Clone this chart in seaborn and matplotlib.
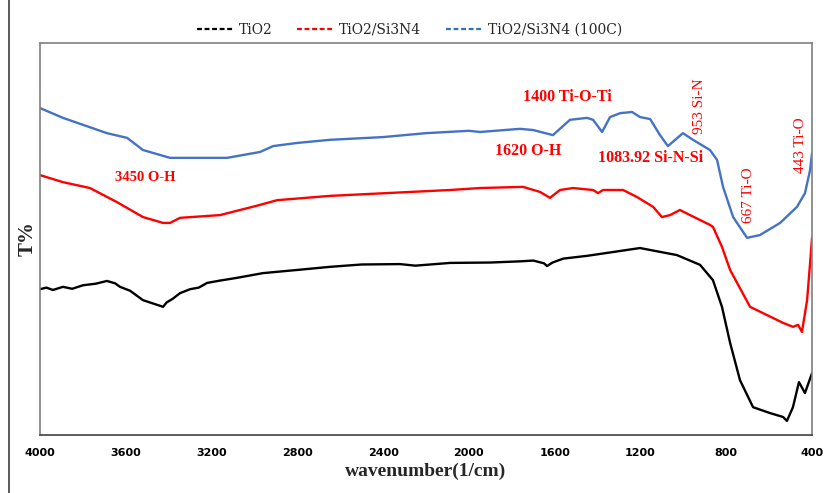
import numpy as np
import pandas as pd
import matplotlib.pyplot as plt
from matplotlib.lines import Line2D
from matplotlib.ticker import MultipleLocator
import seaborn as sns

# -------------------------------------------------------
# Dane (liczba falowa [1/cm], T%)
# -------------------------------------------------------
w_blue = [4000, 3893, 3688, 3594, 3520, 3394, 3268, 3128, 2974, 2913, 2802, 2648, 2400, 2200,
          2000, 1948, 1762, 1701, 1608, 1529, 1449, 1421, 1379, 1342, 1295, 1239, 1202, 1155,
          1109, 1072, 1002, 955, 876, 843, 815, 768, 703, 643, 549, 470, 433, 409, 400]
t_blue = [83.4, 80.9, 77.0, 75.8, 72.7, 70.7, 70.7, 70.7, 72.2, 73.7, 74.5, 75.3, 76.0, 77.0,
          77.6, 77.3, 78.1, 77.8, 76.5, 80.4, 80.9, 80.4, 77.3, 81.1, 82.1, 82.4, 81.1, 80.6,
          76.5, 73.7, 77.0, 75.3, 72.7, 70.2, 63.3, 55.6, 50.3, 51.0, 54.1, 58.2, 61.7, 67.6, 71.9]

w_red = [4000, 3893, 3767, 3641, 3520, 3426, 3394, 3347, 3161, 2974, 2895, 2648, 2088, 1948,
         1748, 1668, 1622, 1575, 1515, 1421, 1398, 1375, 1281, 1216, 1141, 1100, 1062, 1016,
         969, 876, 862, 820, 782, 689, 610, 535, 489, 465, 447, 423, 409, 400]
t_red = [66.3, 64.5, 63.0, 59.4, 55.6, 54.1, 54.1, 55.4, 56.1, 58.7, 59.9, 61.0, 62.5, 63.0,
         63.3, 62.0, 60.5, 62.5, 63.0, 62.5, 61.7, 62.5, 62.5, 60.7, 58.2, 55.6, 56.1, 57.4,
         56.1, 53.6, 53.1, 48.0, 42.1, 32.7, 30.6, 28.6, 27.6, 28.1, 26.3, 34.4, 43.9, 50.3]

w_black = [4000, 3970, 3940, 3893, 3850, 3800, 3740, 3688, 3650, 3627, 3580, 3520, 3470, 3426,
           3410, 3380, 3347, 3300, 3260, 3221, 3160, 3081, 2960, 2802, 2648, 2500, 2321, 2250,
           2088, 1900, 1762, 1700, 1650, 1636, 1610, 1560, 1450, 1350, 1202, 1155, 1030, 922,
           862, 820, 782, 736, 675, 596, 535, 517, 489, 461, 433, 400]
t_black = [37.2, 37.6, 37.0, 37.8, 37.3, 38.2, 38.6, 39.3, 38.7, 37.8, 36.8, 34.4, 33.5, 32.7,
           33.8, 34.8, 36.2, 37.2, 37.6, 38.8, 39.4, 40.1, 41.3, 42.1, 42.9, 43.5, 43.6, 43.2,
           43.9, 44.0, 44.3, 44.5, 43.8, 43.1, 44.0, 45.0, 45.7, 46.5, 47.7, 47.2, 45.9, 43.4,
           39.5, 32.7, 23.5, 14.0, 7.1, 5.6, 4.6, 3.6, 7.1, 13.5, 10.7, 15.8]

series = ['TiO2', 'TiO2/Si3N4', 'TiO2/Si3N4 (100C)']
line_colors = ['black', '#FF0000', '#4472C4']
legend_colors = ['black', '#FF0000', '#2E75B6']

# Opisy pasm: tekst, liczba falowa, T%, obrót, rozmiar
peak_labels = ['3450 O-H', '1400 Ti-O-Ti', '1620 O-H', '1083.92 Si-N-Si',
               '953 Si-N', '667 Ti-O', '443 Ti-O']
peak_w = [3510, 1542, 1724, 1155, 925, 695, 456]
peak_t = [65.6, 86.2, 72.4, 70.7, 84.0, 61.3, 74.0]
peak_rot = [0, 0, 0, 0, 90, 90, 90]
peak_size = [10.5, 11.5, 11.5, 11.5, 11, 11, 11]

df = pd.concat([
    pd.DataFrame({'w': w_black, 'T': t_black, 'Próbka': series[0]}),
    pd.DataFrame({'w': w_red, 'T': t_red, 'Próbka': series[1]}),
    pd.DataFrame({'w': w_blue, 'T': t_blue, 'Próbka': series[2]}),
])

# -------------------------------------------------------
# Wykres
# -------------------------------------------------------
sns.set_style('white')
fig = plt.figure(figsize=(8.27, 4.93), dpi=100)
ax = fig.add_axes([0.0484, 0.1176, 0.9335, 0.7952])

sns.lineplot(data=df, x='w', y='T', hue='Próbka', palette=dict(zip(series, line_colors)),
             linewidth=1.7, legend=False, ax=ax, estimator=None, sort=False)

ax.set_xlim(4000, 400)
ax.set_ylim(0, 100)
ax.xaxis.set_major_locator(MultipleLocator(400))
ax.xaxis.set_minor_locator(MultipleLocator(100))
ax.tick_params(axis='x', which='both', direction='in', length=3, width=0.8,
               colors='#404040', labelcolor='black', pad=9)
ax.set_yticks([])
for lab in ax.get_xticklabels():
    lab.set_family('Liberation Sans Narrow')
    lab.set_fontweight('bold')
    lab.set_fontsize(8)

for s in ['top', 'right', 'left', 'bottom']:
    ax.spines[s].set_color('#7f7f7f')
    ax.spines[s].set_linewidth(1.2)
ax.spines['bottom'].set_color('#404040')

ax.set_xlabel('wavenumber(1/cm)', family='Liberation Serif', fontweight='bold', fontsize=14, labelpad=4)
ax.set_ylabel('T%', family='Liberation Serif', fontweight='bold', fontsize=15, labelpad=2)

for txt, w, t, rot, fs in zip(peak_labels, peak_w, peak_t, peak_rot, peak_size):
    ax.text(w, t, txt, color='#FF0000', family='Liberation Serif', fontsize=fs,
            fontweight='bold' if rot == 0 else 'normal', rotation=rot,
            ha='center', va='center')

handles = [Line2D([0], [0], color=c, linestyle=(0, (2.2, 1.2)), linewidth=1.6) for c in legend_colors]
fig.legend(handles, series, loc='center', bbox_to_anchor=(0.495, 0.94), ncol=3, frameon=False,
           prop={'family': 'DejaVu Serif', 'size': 10}, handlelength=2.6, columnspacing=1.8,
           handletextpad=0.4)

fig.add_artist(Line2D([9 / 827, 9 / 827], [0, 1], color='#404040', linewidth=1.2,
                      transform=fig.transFigure))

plt.savefig('out.png', dpi=100)
plt.close()
